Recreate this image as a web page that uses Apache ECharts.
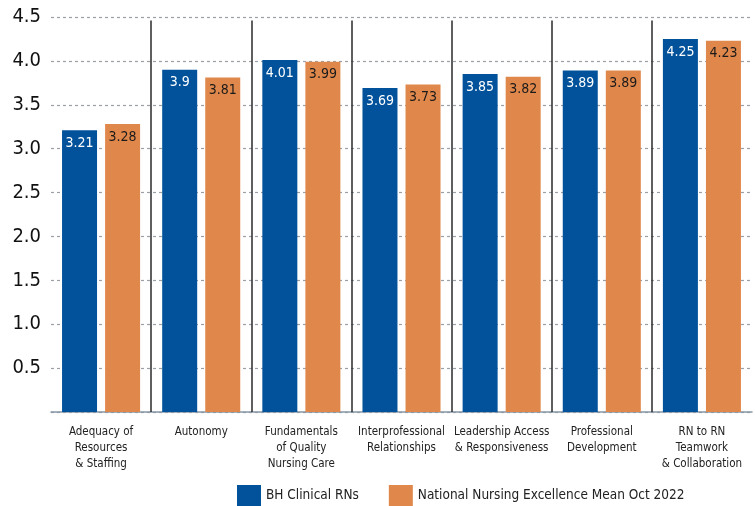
<!DOCTYPE html>
<html>
<head>
<meta charset="utf-8">
<script src="https://cdn.jsdelivr.net/npm/echarts@6/dist/echarts.min.js"></script>
<style>
  html, body { margin: 0; padding: 0; background: #fff; }
  #chart { width: 755px; height: 506px; }
</style>
</head>
<body>
<div id="chart"></div>
<script>
// Survey dimensions and mean scores
const categories = [
  'Adequacy of\nResources\n& Staffing',
  'Autonomy',
  'Fundamentals\nof Quality\nNursing Care',
  'Interprofessional\nRelationships',
  'Leadership Access\n& Responsiveness',
  'Professional\nDevelopment',
  'RN to RN\nTeamwork\n& Collaboration'
];
const bhClinical = [3.21, 3.9, 4.01, 3.69, 3.85, 3.89, 4.25];
const nationalMean = [3.28, 3.81, 3.99, 3.73, 3.82, 3.89, 4.23];
const seriesNames = ['BH Clinical RNs', 'National Nursing Excellence Mean Oct 2022'];

const FONT = "'Liberation Sans Narrow', 'DejaVu Sans Condensed', 'Roboto', sans-serif";
const BLUE = '#01529b';
const ORANGE = '#e0884b';

// vertical separators sit on the boundaries between neighbouring groups
const dividerLines = categories.slice(1).map(function (_, i) {
  return [{ xAxis: i + 1, yAxis: 0 }, { xAxis: i + 1, yAxis: 4.46 }];
});

const chart = echarts.init(document.getElementById('chart'), null, { renderer: 'canvas' });

chart.setOption({
  animation: false,
  textStyle: { fontFamily: FONT },
  grid: { left: 51, right: 3, top: 17, bottom: 94 },
  legend: {
    bottom: -5,
    left: 232,
    itemWidth: 24,
    itemHeight: 21,
    itemGap: 30,
    icon: 'rect',
    textStyle: { fontFamily: FONT, fontSize: 13.5, color: '#222' },
    data: seriesNames
  },
  xAxis: [
    {
      type: 'category',
      data: categories,
      axisLine: { show: true, lineStyle: { color: '#8797a6', width: 1.5 } },
      axisTick: { show: false },
      axisLabel: {
        fontFamily: FONT, fontSize: 11.5, color: '#222',
        lineHeight: 16, margin: 12, interval: 0
      },
      splitLine: { show: false }
    },
    {
      // helper axis spanning the groups, used to place the separators
      type: 'value',
      min: 0, max: categories.length,
      show: false
    }
  ],
  yAxis: {
    type: 'value',
    min: 0, max: 4.5, interval: 0.5,
    axisLine: { show: false },
    axisTick: { show: false },
    axisLabel: {
      fontFamily: FONT, fontSize: 20, color: '#111', margin: 10,
      formatter: function (v) { return v === 0 ? '' : v.toFixed(1); }
    },
    splitLine: {
      show: true,
      lineStyle: { color: '#9aa0a6', type: [3, 3], width: 1.2 }
    }
  },
  series: [
    {
      name: seriesNames[0],
      type: 'bar',
      data: bhClinical,
      barWidth: 35,
      barGap: '23%',
      itemStyle: { color: BLUE },
      label: {
        show: true, position: 'insideTop', distance: 6,
        color: '#fff', fontFamily: FONT, fontSize: 14
      }
    },
    {
      name: seriesNames[1],
      type: 'bar',
      data: nationalMean,
      barWidth: 35,
      itemStyle: { color: ORANGE },
      label: {
        show: true, position: 'insideTop', distance: 6,
        color: '#1a1a1a', fontFamily: FONT, fontSize: 14
      }
    },
    {
      name: 'dividers',
      type: 'line',
      xAxisIndex: 1,
      data: [],
      silent: true,
      markLine: {
        silent: true,
        symbol: ['none', 'none'],
        label: { show: false },
        lineStyle: { color: '#2a2a2a', width: 1.5, type: 'solid' },
        data: dividerLines
      }
    }
  ]
});
</script>
</body>
</html>
